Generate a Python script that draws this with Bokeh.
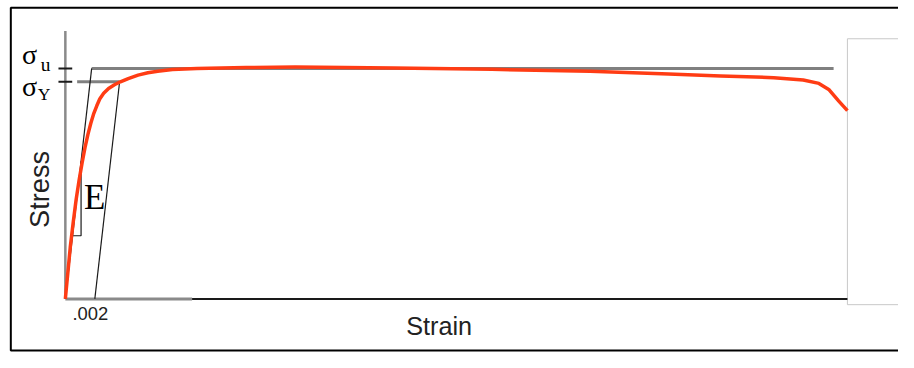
import math
from bokeh.plotting import figure
from bokeh.models import Range1d
from bokeh.core.properties import value
from bokeh.embed import file_html
from bokeh.resources import INLINE

# ---------------- data ----------------
# Stress-strain test curve (normalised stress vs strain)
strain = [0.0, 0.000167, 0.000333, 0.000533, 0.000733, 0.000933, 0.001133, 0.001333,
          0.001533, 0.001733, 0.001933, 0.002133, 0.002333, 0.0026, 0.002933, 0.003333,
          0.003733, 0.004267, 0.004933, 0.0056, 0.006267, 0.007267, 0.008933, 0.012267,
          0.0156, 0.022267, 0.028933, 0.0356, 0.040933, 0.044467, 0.048067, 0.050067,
          0.051133, 0.0518, 0.052467, 0.053067]
stress = [0.0, 0.112, 0.224, 0.332, 0.4315, 0.5145, 0.589, 0.656,
          0.714, 0.763, 0.805, 0.838, 0.867, 0.892, 0.913, 0.929,
          0.942, 0.956, 0.971, 0.981, 0.988, 0.995, 1.000, 1.004,
          1.006, 1.002, 0.996, 0.988, 0.976, 0.967, 0.960, 0.950,
          0.935, 0.909, 0.859, 0.817]

SIGMA_U = 1.0          # ultimate strength
SIGMA_Y = 0.942        # yield strength
E_MOD = 560.0          # elastic modulus (slope of the elastic line)
OFFSET = 0.002         # 0.2 % offset strain
STRAIN_END = 0.053067  # end of the strain axis
SIGMA_U_LINE_END = 0.05213
YIELD_LINE_START = 0.0008
GRAY_AXIS_END = 0.0086
TRI_STRESS = 0.274     # base of slope triangle
TRI_STRAIN = 0.001067
tick_values = [SIGMA_U, SIGMA_Y]
x_tick_label = ".002"

# ---------------- layout helpers (reference pixels -> data / canvas) ----------------
W, H = 898, 352
REF_W, REF_H = 914, 368
KX, KY = W / REF_W, H / REF_H
FS = 0.97


def rx(px):
    return (px - 66.0) / 15000.0


def ry(py):
    return (312.0 - py) / 241.0


def ox(v):
    return v * KX


def oy(v):
    return v * KY


def fs(v):
    return value(f"{v * FS:.1f}px")


p = figure(width=W, height=H, output_backend="svg", toolbar_location=None,
           x_range=Range1d(rx(0), rx(REF_W)), y_range=Range1d(ry(REF_H), ry(0)),
           x_axis_location=None, y_axis_location=None, min_border=0,
           background_fill_color="white", border_fill_color="white")
p.grid.visible = False
p.outline_line_color = None

RED = "#ff3c14"
GRAY = "#808080"
BLK = "#1a1a1a"

# outer frame (top, left, bottom)
p.line([rx(REF_W + 5), rx(10.5), rx(10.5), rx(REF_W + 5)],
       [ry(7.5), ry(7.5), ry(366), ry(366)], line_color="black", line_width=2)

# empty box at right
p.quad(left=[STRAIN_END], right=[rx(REF_W + 5)], top=[ry(40)], bottom=[ry(318)],
       fill_color="white", line_color="#c8c8c8", line_width=1)

# axes
p.line([0, 0], [0, ry(32)], line_color="#8a8a8a", line_width=2.5)
p.line([0, GRAY_AXIS_END], [0, 0], line_color="#8a8a8a", line_width=3)
p.line([GRAY_AXIS_END, STRAIN_END], [0, 0], line_color=BLK, line_width=2)

# sigma ticks
p.scatter([0, 0], tick_values, marker="dash", size=ox(14), line_color=BLK, line_width=2)

# gray idealised lines
p.line([SIGMA_U / E_MOD, SIGMA_U_LINE_END], [SIGMA_U, SIGMA_U], line_color=GRAY, line_width=3)
p.line([YIELD_LINE_START, OFFSET + SIGMA_Y / E_MOD], [SIGMA_Y, SIGMA_Y],
       line_color=GRAY, line_width=3)

# elastic line, offset line, slope triangle
p.line([0, SIGMA_U / E_MOD], [0, SIGMA_U], line_color=BLK, line_width=1.2)
p.line([OFFSET, OFFSET + SIGMA_Y / E_MOD], [0, SIGMA_Y], line_color=BLK, line_width=1.2)
p.line([TRI_STRESS / E_MOD, TRI_STRAIN, TRI_STRAIN],
       [TRI_STRESS, TRI_STRESS, E_MOD * TRI_STRAIN], line_color=BLK, line_width=1.2)

# test curve
p.line(strain, stress, line_color=RED, line_width=3.5, line_join="round")

serif = value("Liberation Serif")
sans = value("Liberation Sans")

# sigma labels
p.text(x=[0, 0], y=tick_values, text=["σ", "σ"], x_offset=ox(-44),
       y_offset=[oy(-14.3), oy(4.7)],
       text_font=serif, text_font_size=fs(29), text_color="black",
       text_align="left", text_baseline="alphabetic")
p.text(x=[0], y=[SIGMA_U], text=["u"], x_offset=ox(-25), y_offset=oy(-4.4),
       text_font=serif, text_font_size=fs(20), text_color="black",
       text_align="left", text_baseline="alphabetic")
p.text(x=[0], y=[SIGMA_Y], text=["Y"], x_offset=ox(-28), y_offset=oy(13.2),
       text_font=serif, text_font_size=fs(18), text_color="black",
       text_align="left", text_baseline="alphabetic")

# E label
p.text(x=[TRI_STRAIN], y=[TRI_STRESS], text=["E"], x_offset=ox(3), y_offset=oy(-40.5),
       text_font=serif, text_font_size=fs(36), text_color="black",
       text_align="left", text_baseline="alphabetic")

# .002 label
p.text(x=[OFFSET], y=[0], text=[x_tick_label], x_offset=ox(-4.5), y_offset=oy(15),
       text_font=sans, text_font_size=fs(19), text_color="#222222",
       text_align="center", text_baseline="alphabetic")

# axis titles
p.text(x=[rx(446.5)], y=[ry(340.2)], text=["Strain"],
       text_font=sans, text_font_size=fs(26),
       text_color="#222222", text_align="center", text_baseline="alphabetic")
p.text(x=[rx(40)], y=[ry(197.5)], text=["Stress"], angle=math.pi / 2,
       text_font=sans, text_font_size=fs(28), text_color="#222222",
       text_align="center", text_baseline="alphabetic")

open("out.html", "w").write(file_html(p, INLINE))
